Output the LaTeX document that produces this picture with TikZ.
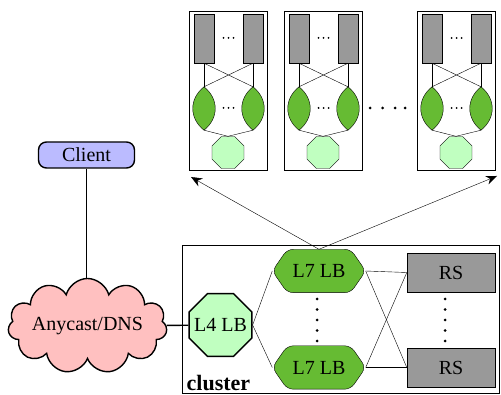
\documentclass[tikz,border=0pt]{standalone}
\usepackage{fontspec}
\setmainfont{Liberation Serif}
\newfontfamily\timesfont{Liberation Serif}
\usetikzlibrary{shapes.geometric,shapes.symbols,arrows.meta}
\pgfdeclarelayer{bg}
\pgfsetlayers{bg,main}
\definecolor{rsgray}{HTML}{999999}
\definecolor{lensgreen}{HTML}{66BB33}
\definecolor{palegreen}{HTML}{C0FFC0}
\definecolor{clientblue}{HTML}{BBBBFF}
\definecolor{cloudpink}{HTML}{FFC0C0}
\begin{document}
\begin{tikzpicture}[x=1pt,y=-1pt,line width=1.4pt,
  every node/.style={font=\timesfont\fontsize{20}{24}\selectfont,inner sep=0pt},
  oct/.style={regular polygon,regular polygon sides=8,draw,fill=palegreen},
  rsbox/.style={rectangle,draw,fill=rsgray},
  l7node/.style={rectangle,minimum width=92pt,minimum height=42pt},
  lensnode/.style={rectangle,minimum width=22pt,minimum height=43pt},
  clientbox/.style={rectangle,draw,rounded corners=8pt,fill=clientblue,minimum width=96pt,minimum height=26pt},
  dnscloud/.style={cloud,cloud puffs=11,cloud ignores aspect,draw,fill=cloudpink,minimum width=159pt,minimum height=95pt},
  arr/.style={-{Stealth[length=11pt,width=9pt]}}]
\useasboundingbox (0,0) rectangle (501,395);

% cluster
\node[draw,rectangle,minimum width=317pt,minimum height=148pt,anchor=north west] (cluster) at (182,245) {};
\node[font=\timesfont\bfseries\fontsize{22}{24}\selectfont,anchor=base west] (cllabel) at (186,391) {cluster};

% client and DNS
\node[clientbox] (client) at (86.5,155) {Client};
\node[dnscloud] (dns) at (87.5,326) {Anycast/DNS};
\draw (client) -- (client |- dns.north);

% L4
\node[oct,minimum size=68pt] (l4) at (220.5,325) {};
\node (l4text) at (l4.center) {L4 LB};
\draw (dns) -- (l4);

% L7
\node[l7node] (l7a) at (319,271) {L7 LB};
\node[l7node] (l7b) at (319,367.5) {L7 LB};
\begin{pgfonlayer}{bg}
\foreach \n in {l7a,l7b}
  \draw[fill=lensgreen,rounded corners=6pt] (\n.west) -- ([xshift=15pt]\n.north west) -- ([xshift=-15pt]\n.north east) -- (\n.east) -- ([xshift=-15pt]\n.south east) -- ([xshift=15pt]\n.south west) -- cycle;
\end{pgfonlayer}

% RS
\node[rsbox,minimum width=88pt,minimum height=39pt] (rsa) at (451,272.5) {RS};
\node[rsbox,minimum width=88pt,minimum height=39pt] (rsb) at (451,367.5) {RS};

\draw (l4.east) -- (l7a.west);
\draw (l4.east) -- (l7b.west);
\draw (l7a.east) -- (rsa.west);
\draw (l7a.east) -- (rsb.west);
\draw (l7b.east) -- (rsa.west);
\draw (l7b.east) -- (rsb.west);

% vertical dots
\foreach \yy in {299,309.5,320,330.5,341} {
  \fill (317,\yy) circle (1.5);
  \fill (445,\yy) circle (1.5);
}

% top boxes
\foreach \i/\x in {1/189,2/284,3/417} {
  \node[draw,rectangle,minimum width=78pt,minimum height=159pt,anchor=north west] (box\i) at (\x,11) {};
  \node[rsbox,minimum width=20pt,minimum height=49pt] (ra\i) at ({\x+15},38.5) {};
  \node[rsbox,minimum width=20pt,minimum height=49pt] (rb\i) at ({\x+64},38.5) {};
  \node[lensnode] (la\i) at ({\x+15},108.5) {};
  \node[lensnode] (lb\i) at ({\x+64},108.5) {};
  \node[oct,minimum size=34.6pt] (o\i) at ({\x+39},152.5) {};
  \draw (ra\i.south) -- (la\i.north);
  \draw (ra\i.south) -- (lb\i.north);
  \draw (rb\i.south) -- (la\i.north);
  \draw (rb\i.south) -- (lb\i.north);
  \draw (la\i.south) -- (o\i.north);
  \draw (lb\i.south) -- (o\i.north);
  \foreach \n in {la\i,lb\i}
    \draw[fill=lensgreen] (\n.north) .. controls +(15,12) and +(15,-12) .. (\n.south) .. controls +(-15,-12) and +(-15,12) .. (\n.north) -- cycle;
  \foreach \d in {-5,0,5} {
    \fill ({\x+39.5+\d},38) circle (1);
    \fill ({\x+39.5+\d},108) circle (1);
  }
}
\foreach \xx in {370,382.5,395,405}
  \fill (\xx,108) circle (1.5);

% arrows
\coordinate (tl) at (191,177);
\coordinate (tr) at (497,176);
\draw[arr] (l7a.north) -- (tl);
\draw[arr] (l7a.north) -- (tr);
\end{tikzpicture}
\end{document}
